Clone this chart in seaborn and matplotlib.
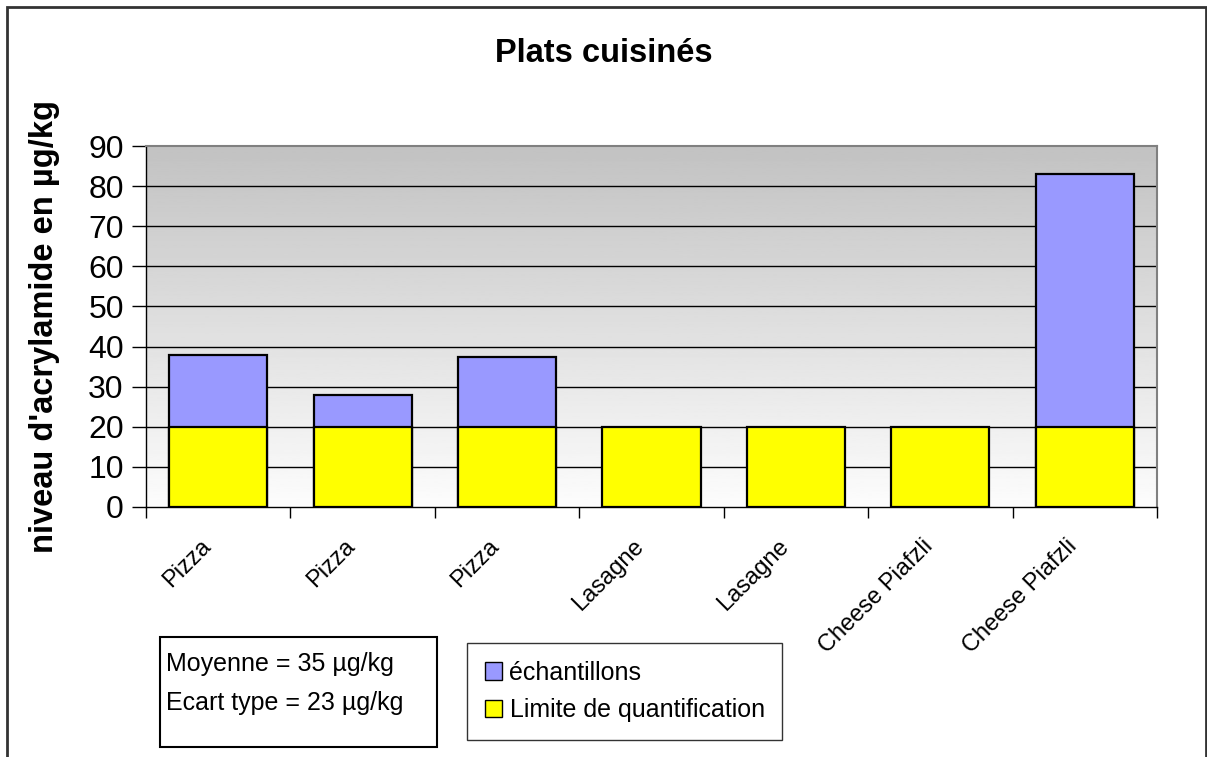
import numpy as np
import pandas as pd
import matplotlib
matplotlib.use("Agg")
import matplotlib.pyplot as plt
import seaborn as sns
from matplotlib.patches import Rectangle, Patch
from matplotlib.transforms import ScaledTranslation

categories = ["Pizza", "Pizza", "Pizza", "Lasagne", "Lasagne", "Cheese Piafzli", "Cheese Piafzli"]
echantillons = [38, 28, 37.5, 0, 0, 0, 83]
limite_quantif = [20, 20, 20, 20, 20, 20, 20]
y_ticks = [0, 10, 20, 30, 40, 50, 60, 70, 80, 90]

sns.set_style("white")
plt.rcParams["font.family"] = ["Liberation Sans", "DejaVu Sans"]
plt.rcParams["text.color"] = "black"
plt.rcParams["xtick.color"] = "black"
plt.rcParams["ytick.color"] = "black"
plt.rcParams["axes.labelcolor"] = "black"

df = pd.DataFrame({"pos": range(len(categories)), "echantillons": echantillons, "limite": limite_quantif})

fig = plt.figure(figsize=(12.07, 7.57), dpi=100)
ax = fig.add_axes([146/1207, 1-507/757, (1157-146)/1207, (507-146)/757])

# fond en degrade gris -> blanc
grad = np.linspace(0.76, 0.99, 256).reshape(-1, 1)
ax.imshow(grad, cmap="gray", vmin=0, vmax=1, aspect="auto",
          extent=(-0.5, 6.5, 0, 90), origin="upper", zorder=0)

sns.barplot(data=df, x="pos", y="echantillons", color="#9999FF", saturation=1,
            width=0.68, edgecolor="black", linewidth=1.6, ax=ax, zorder=3)
sns.barplot(data=df, x="pos", y="limite", color="#FFFF00", saturation=1,
            width=0.68, edgecolor="black", linewidth=1.6, ax=ax, zorder=4)

ax.set_xlim(-0.5, 6.5)
ax.set_ylim(0, 90)
ax.set_yticks(y_ticks)
for v in y_ticks[1:-1]:
    ax.axhline(v, color="black", lw=1, zorder=1)

ax.tick_params(axis="y", direction="out", length=10, width=1, color="black",
               labelsize=23, pad=6, left=True)
ax.set_xticks(range(len(categories)))
ax.set_xticklabels(categories, rotation=45, ha="right", va="center",
                   rotation_mode="anchor", fontsize=17)
ax.set_xticks(np.arange(-0.5, 7, 1), minor=True)
ax.tick_params(axis="x", which="major", length=0, pad=26)
ax.tick_params(axis="x", which="minor", direction="out", length=8, width=1, color="black", bottom=True)
off = ScaledTranslation(-11/100, 0, fig.dpi_scale_trans)
for lbl in ax.get_xticklabels():
    lbl.set_transform(lbl.get_transform() + off)

ax.set_xlabel("")
ax.set_ylabel("niveau d'acrylamide en µg/kg", fontsize=23.5, fontweight="bold")
ax.yaxis.set_label_coords(-0.085, 0.5)

for side in ["top", "right"]:
    ax.spines[side].set_color("#808080")
    ax.spines[side].set_linewidth(1.5)
for side in ["left", "bottom"]:
    ax.spines[side].set_color("black")
    ax.spines[side].set_linewidth(1)

fig.text(0.5, 1-53/757, "Plats cuisinés", ha="center", va="center",
         fontsize=23.5, fontweight="bold")

# cadre exterieur
fig.patches.append(Rectangle((7/1207, -0.02), (1206-7)/1207, 1.02-7/757, transform=fig.transFigure,
                             fill=False, edgecolor="#333333", lw=2))

# encadre statistiques
fig.patches.append(Rectangle((160/1207, 1-747/757), 277/1207, 110/757, transform=fig.transFigure,
                             fill=False, edgecolor="black", lw=1.5))
fig.text(166/1207, 1-664/757, "Moyenne = 35 µg/kg", ha="left", va="center", fontsize=18)
fig.text(166/1207, 1-703/757, "Ecart type = 23 µg/kg", ha="left", va="center", fontsize=18)

handles = [Patch(facecolor="#9999FF", edgecolor="black", label="échantillons"),
           Patch(facecolor="#FFFF00", edgecolor="black", label="Limite de quantification")]
leg = fig.legend(handles=handles, loc="upper left", bbox_to_anchor=(467/1207, 1-643/757),
                 fontsize=18, frameon=True, fancybox=False, edgecolor="black",
                 handlelength=0.7, handleheight=0.7, handletextpad=0.3,
                 borderpad=0.7, labelspacing=0.55, borderaxespad=0)
leg.get_frame().set_linewidth(1)

fig.savefig("out.png", dpi=100)
